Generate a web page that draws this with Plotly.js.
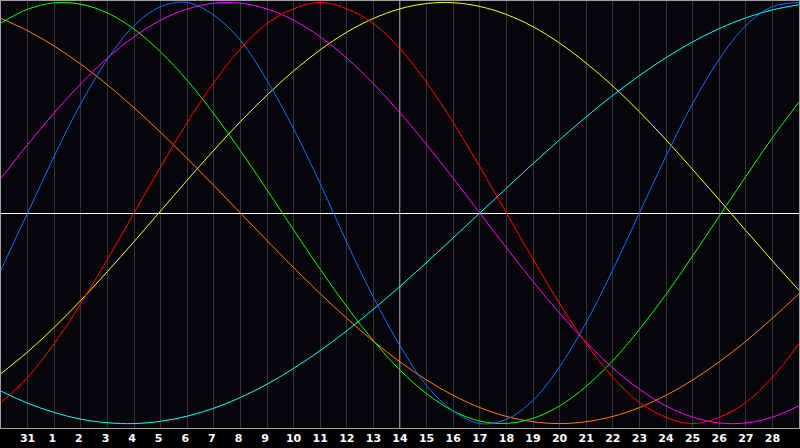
<!DOCTYPE html>
<html>
<head>
<meta charset="utf-8">
<script src="https://cdn.plot.ly/plotly-3.0.1.min.js"></script>
<style>
html,body{margin:0;padding:0;background:#000;}
#chart{width:800px;height:448px;}
</style>
</head>
<body>
<div id="chart"></div>
<script>
// day index 0..30 (index 1 = "31", index 15 = "14")
const dayIndex = [0,1,2,3,4,5,6,7,8,9,10,11,12,13,14,15,16,17,18,19,20,21,22,23,24,25,26,27,28,29,30];
const tickIndex = [1,2,3,4,5,6,7,8,9,10,11,12,13,14,15,16,17,18,19,20,21,22,23,24,25,26,27,28,29];
const dayLabels = ['31','1','2','3','4','5','6','7','8','9','10','11','12','13','14','15','16','17','18','19','20','21','22','23','24','25','26','27','28'];
const todayIndex = 15;

const blueVals    = [-0.27,0.00,0.27,0.52,0.73,0.89,0.98,1.00,0.94,0.82,0.63,0.40,0.14,-0.14,-0.40,-0.63,-0.82,-0.94,-1.00,-0.98,-0.89,-0.73,-0.52,-0.27,0.00,0.27,0.52,0.73,0.89,0.98,1.00];
const redVals     = [-0.90,-0.78,-0.62,-0.43,-0.22,0.00,0.22,0.43,0.62,0.78,0.90,0.97,1.00,0.97,0.90,0.78,0.62,0.43,0.22,0.00,-0.22,-0.43,-0.62,-0.78,-0.90,-0.97,-1.00,-0.97,-0.90,-0.78,-0.62];
const greenVals   = [0.903,0.968,0.998,0.992,0.950,0.874,0.765,0.630,0.472,0.296,0.110,-0.080,-0.267,-0.445,-0.606,-0.746,-0.858,-0.940,-0.988,-0.999,-0.975,-0.916,-0.823,-0.701,-0.553,-0.386,-0.204,-0.015,0.174,0.358,0.527];
const magentaVals = [0.165,0.325,0.476,0.614,0.736,0.837,0.916,0.969,0.997,0.997,0.969,0.916,0.837,0.736,0.614,0.476,0.325,0.165,0.000,-0.165,-0.325,-0.476,-0.614,-0.736,-0.837,-0.916,-0.969,-0.997,-0.997,-0.969,-0.916];
const yellowVals  = [-0.762,-0.660,-0.543,-0.415,-0.278,-0.136,0.010,0.156,0.298,0.434,0.560,0.675,0.775,0.859,0.924,0.970,0.995,0.999,0.981,0.943,0.885,0.807,0.712,0.603,0.481,0.348,0.207,0.063,-0.083,-0.227,-0.367];
const orangeVals  = [0.924,0.866,0.793,0.707,0.609,0.500,0.383,0.259,0.131,0.000,-0.131,-0.259,-0.383,-0.500,-0.609,-0.707,-0.793,-0.866,-0.924,-0.966,-0.991,-1.000,-0.991,-0.966,-0.924,-0.866,-0.793,-0.707,-0.609,-0.500,-0.383];
const cyanVals    = [-0.846,-0.903,-0.947,-0.979,-0.996,-1.000,-0.989,-0.965,-0.927,-0.876,-0.813,-0.738,-0.653,-0.559,-0.457,-0.348,-0.235,-0.118,0.000,0.118,0.235,0.348,0.457,0.559,0.653,0.738,0.813,0.876,0.927,0.965,0.989];

const series = [
  {name:'aesthetic', y:yellowVals, color:'#ffff00'},
  {name:'spiritual', y:cyanVals, color:'#00ffff'},
  {name:'awareness', y:orangeVals, color:'#ff8000'},
  {name:'intuitive', y:magentaVals, color:'#ff00ff'},
  {name:'intellectual', y:greenVals, color:'#00ff00'},
  {name:'emotional', y:redVals, color:'#ff0000'},
  {name:'physical', y:blueVals, color:'#1070ff'}
];

const traces = series.map(s => ({
  x: dayIndex, y: s.y, name: s.name, type:'scatter', mode:'lines',
  line:{color:s.color, width:1, shape:'spline', smoothing:1},
  hoverinfo:'skip'
}));

const tickText = dayLabels.map(t => t.length === 1 ? t + '\u00a0' : t);

const layout = {
  width:800, height:448,
  margin:{l:1, r:1, t:1, b:20, pad:0},
  paper_bgcolor:'#000000',
  plot_bgcolor:'#060509',
  showlegend:false,
  xaxis:{
    range:[0,30], tickmode:'array', tickvals:tickIndex, ticktext:tickText,
    showgrid:true, gridcolor:'#343434', gridwidth:1,
    zeroline:false, showline:true, mirror:true, linecolor:'#a0a0a0', linewidth:1,
    ticks:'', tickfont:{family:'DejaVu Sans', size:11, color:'#ffffff', weight:'bold'},
    fixedrange:true
  },
  yaxis:{
    range:[-1.021,1.007], showticklabels:false, showgrid:false,
    zeroline:true, zerolinecolor:'#ffffff', zerolinewidth:1,
    showline:true, mirror:true, linecolor:'#a0a0a0', linewidth:1, ticks:'',
    fixedrange:true
  },
  shapes:[{type:'line', xref:'x', yref:'paper', x0:todayIndex, x1:todayIndex, y0:0, y1:1,
           line:{color:'#ffffff', width:1}, layer:'below'}]
};

Plotly.newPlot('chart', traces, layout, {displayModeBar:false, staticPlot:true});
</script>
</body>
</html>
